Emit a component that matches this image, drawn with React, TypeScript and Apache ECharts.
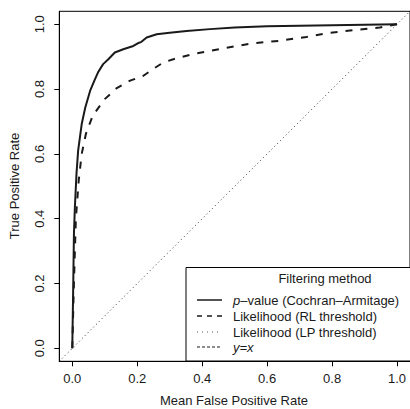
import React, { useEffect, useRef } from "react";
import * as echarts from "echarts";

const tickValues = [0, 0.2, 0.4, 0.6, 0.8, 1.0];

const pvalX = [0, 0.003, 0.005, 0.008, 0.013, 0.018, 0.029, 0.04, 0.055, 0.068, 0.079, 0.095, 0.111, 0.131, 0.157, 0.188, 0.203, 0.212, 0.229, 0.26, 0.3, 0.352, 0.424, 0.5, 0.6, 0.8, 1.0];
const pvalY = [0, 0.2, 0.35, 0.436, 0.54, 0.61, 0.692, 0.743, 0.795, 0.826, 0.851, 0.877, 0.892, 0.913, 0.923, 0.933, 0.942, 0.945, 0.959, 0.969, 0.974, 0.979, 0.985, 0.99, 0.994, 0.997, 1.0];

const rlX = [0, 0.005, 0.011, 0.02, 0.029, 0.042, 0.063, 0.1, 0.137, 0.178, 0.219, 0.249, 0.28, 0.321, 0.372, 0.424, 0.546, 0.638, 0.721, 0.783, 0.865, 0.947, 1.0];
const rlY = [0, 0.2, 0.4, 0.52, 0.6, 0.662, 0.718, 0.769, 0.803, 0.826, 0.841, 0.862, 0.882, 0.895, 0.908, 0.918, 0.94, 0.949, 0.961, 0.972, 0.982, 0.99, 1.0];

const diagX = [-0.04, 1.04];
const diagY = [-0.04, 1.04];

const legendTitle = "Filtering method";
const legendNames = ["–value (Cochran–Armitage)", "Likelihood (RL threshold)", "Likelihood (LP threshold)", "=x"];

const FONT = "Liberation Sans, Arial, Helvetica, sans-serif";
const INK = "#1a1a1a";

export default function App() {
  const ref = useRef<HTMLDivElement>(null);
  useEffect(() => {
    if (!ref.current) return;
    const chart = echarts.init(ref.current, undefined, { renderer: "svg" });
    const zip = (xs: number[], ys: number[]) => xs.map((x, i) => [x, ys[i]]);
    const legX1 = 197, legX2 = 222, textX = 233;
    const rowY = [300, 316, 332, 347];
    chart.setOption({
      animation: false,
      textStyle: { fontFamily: FONT },
      grid: { left: 59.3, top: 11.3, width: 351, height: 350, show: true, borderColor: "#000", borderWidth: 1, backgroundColor: "transparent" },
      xAxis: {
        type: "value", min: -0.04, max: 1.04,
        axisLine: { show: true, onZero: false, lineStyle: { color: "#000", width: 1 } },
        axisTick: { show: true, inside: false, length: 5, customValues: tickValues, lineStyle: { color: "#000" } },
        axisLabel: { show: true, customValues: tickValues, formatter: (v: number) => v.toFixed(1), margin: 11, fontSize: 13, color: INK, fontFamily: FONT },
        splitLine: { show: false },
      },
      yAxis: {
        type: "value", min: -0.04, max: 1.04,
        axisLine: { show: true, onZero: false, lineStyle: { color: "#000", width: 1 } },
        axisTick: { show: true, inside: false, length: 5, customValues: tickValues, lineStyle: { color: "#000" } },
        axisLabel: { show: true, customValues: tickValues, formatter: (v: number) => v.toFixed(1), rotate: 90, margin: 13, fontSize: 13, color: INK, fontFamily: FONT },
        splitLine: { show: false },
      },
      series: [
        { type: "line", name: "y=x", data: zip(diagX, diagY), symbol: "none", lineStyle: { color: "#333", width: 1, type: [1, 3] }, z: 1 },
        { type: "line", name: "Likelihood (RL threshold)", data: zip(rlX, rlY), symbol: "none", lineStyle: { color: INK, width: 2, type: [7, 8] }, z: 2 },
        { type: "line", name: "p-value (Cochran-Armitage)", data: zip(pvalX, pvalY), symbol: "none", lineStyle: { color: INK, width: 2, type: "solid" }, z: 3 },
      ],
      graphic: [
        { type: "rect", shape: { x: 186, y: 267.5, width: 230, height: 93.5 }, style: { fill: "#fff", stroke: "#000", lineWidth: 1 }, z: 10 },
        { type: "text", x: 325, y: 278, style: { text: legendTitle, font: `13px ${FONT}`, fill: INK, align: "center", verticalAlign: "middle" }, z: 11 },
        { type: "line", shape: { x1: legX1, y1: rowY[0], x2: legX2, y2: rowY[0] }, style: { stroke: INK, lineWidth: 1.5 }, z: 11 },
        { type: "line", shape: { x1: legX1, y1: rowY[1], x2: legX2, y2: rowY[1] }, style: { stroke: INK, lineWidth: 1.5, lineDash: [5, 5] }, z: 11 },
        { type: "line", shape: { x1: legX1, y1: rowY[2], x2: legX2, y2: rowY[2] }, style: { stroke: "#555", lineWidth: 1, lineDash: [1, 4] }, z: 11 },
        { type: "line", shape: { x1: legX1, y1: rowY[3], x2: legX2, y2: rowY[3] }, style: { stroke: INK, lineWidth: 1, lineDash: [3, 2] }, z: 11 },
        { type: "text", x: textX, y: rowY[0], style: { text: "{i|p}" + legendNames[0], rich: { i: { fontStyle: "italic", font: `italic 13px ${FONT}`, fill: INK } }, font: `13px ${FONT}`, fill: INK, verticalAlign: "middle" }, z: 11 },
        { type: "text", x: textX, y: rowY[1], style: { text: legendNames[1], font: `13px ${FONT}`, fill: INK, verticalAlign: "middle" }, z: 11 },
        { type: "text", x: textX, y: rowY[2], style: { text: legendNames[2], font: `13px ${FONT}`, fill: INK, verticalAlign: "middle" }, z: 11 },
        { type: "text", x: textX, y: rowY[3], style: { text: "y" + legendNames[3], font: `italic 13px ${FONT}`, fill: INK, verticalAlign: "middle" }, z: 11 },
        { type: "text", x: 234, y: 400, style: { text: "Mean False Positive Rate", font: `13px ${FONT}`, fill: INK, align: "center", verticalAlign: "middle" }, z: 11 },
        { type: "text", x: 14, y: 186, rotation: Math.PI / 2, style: { text: "True Positive Rate", font: `13px ${FONT}`, fill: INK, align: "center", verticalAlign: "middle" }, z: 11 },
      ],
    });
    return () => chart.dispose();
  }, []);
  return <div ref={ref} style={{ position: "fixed", left: 0, top: 0, width: 410, height: 409, background: "#fff" }} />;
}
